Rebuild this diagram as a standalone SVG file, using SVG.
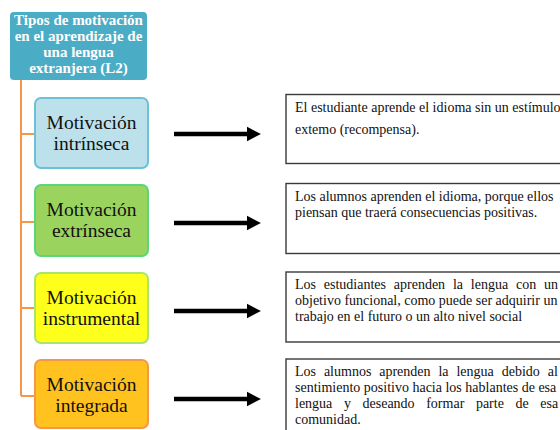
<svg xmlns="http://www.w3.org/2000/svg" width="560" height="430" viewBox="0 0 560 430">
<style>
.title{font-family:"Liberation Serif","Times New Roman",serif;font-weight:bold;font-size:15px;fill:#ffffff;text-anchor:middle}
.lbl{font-family:"Liberation Serif","Times New Roman",serif;font-size:19.5px;fill:#111111;text-anchor:middle}
.desc{font-family:"Liberation Serif","Times New Roman",serif;font-size:14px;fill:#111111}
.dbox{fill:#ffffff;stroke:#3a3a3a;stroke-width:1.4}
.branch{fill:none;stroke:#F79646;stroke-width:2}
.arrow{stroke:#000000;stroke-width:4.5;fill:none}
</style>
<defs>
<marker id="ah" markerWidth="4" markerHeight="4" refX="0" refY="2" orient="auto" markerUnits="strokeWidth" viewBox="0 0 4 4">
<path d="M0,0.4 L3.1,2 L0,3.6 Z" fill="#000000"/>
</marker>
</defs>
<rect width="560" height="430" fill="#ffffff"/>

<g id="connectors">
<path class="branch" d="M21,80 V396 M21,134 H35 M21,222 H35 M21,308 H35 M21,396 H35"/>
<line class="arrow" x1="174" y1="134" x2="247" y2="134" marker-end="url(#ah)"/>
<line class="arrow" x1="174" y1="223" x2="247" y2="223" marker-end="url(#ah)"/>
<line class="arrow" x1="174" y1="311" x2="247" y2="311" marker-end="url(#ah)"/>
<line class="arrow" x1="174" y1="399" x2="247" y2="399" marker-end="url(#ah)"/>
</g>

<g id="title">
<rect x="10" y="12" width="137" height="68" rx="4" fill="#4BACC6"/>
<text class="title" x="78.5" y="25">Tipos de motivación</text>
<text class="title" x="78.5" y="41">en el aprendizaje de</text>
<text class="title" x="78.5" y="57">una lengua</text>
<text class="title" x="78.5" y="73">extranjera (L2)</text>
</g>

<g id="intrinseca">
<rect x="35" y="98" width="113" height="70" rx="6" fill="#BCE1EA" stroke="#6CC0D8" stroke-width="2"/>
<text class="lbl" x="91.5" y="129">Motivación</text>
<text class="lbl" x="91.5" y="150">intrínseca</text>
</g>

<g id="extrinseca">
<rect x="35" y="185" width="113" height="71" rx="6" fill="#9BD35F" stroke="#5AD67A" stroke-width="2"/>
<text class="lbl" x="91.5" y="216">Motivación</text>
<text class="lbl" x="91.5" y="237">extrínseca</text>
</g>

<g id="instrumental">
<rect x="35" y="273" width="113" height="70" rx="6" fill="#FFFF1C" stroke="#A8E46E" stroke-width="2"/>
<text class="lbl" x="91.5" y="304">Motivación</text>
<text class="lbl" x="91.5" y="325">instrumental</text>
</g>

<g id="integrada">
<rect x="35" y="360" width="113" height="68" rx="6" fill="#FFC21F" stroke="#F79646" stroke-width="2"/>
<text class="lbl" x="91.5" y="391">Motivación</text>
<text class="lbl" x="91.5" y="412">integrada</text>
</g>

<g id="desc-intrinseca">
<rect class="dbox" x="286" y="94.5" width="290" height="69"/>
<text class="desc" x="295" y="112">El estudiante aprende el idioma sin un estímulo</text>
<text class="desc" x="295" y="134">extemo (recompensa).</text>
</g>

<g id="desc-extrinseca">
<rect class="dbox" x="286" y="183.5" width="290" height="70"/>
<text class="desc" x="295" y="201">Los alumnos aprenden el idioma, porque ellos</text>
<text class="desc" x="295" y="217">piensan que traerá consecuencias positivas.</text>
</g>

<g id="desc-instrumental">
<rect class="dbox" x="286" y="272" width="290" height="70"/>
<text class="desc" x="295" y="289" word-spacing="4.3">Los estudiantes aprenden la lengua con un</text>
<text class="desc" x="295" y="305">objetivo funcional, como puede ser adquirir un</text>
<text class="desc" x="295" y="321">trabajo en el futuro o un alto nivel social</text>
</g>

<g id="desc-integrada">
<rect class="dbox" x="286" y="359" width="290" height="90"/>
<text class="desc" x="295" y="376" word-spacing="4.4">Los alumnos aprenden la lengua debido al</text>
<text class="desc" x="295" y="392">sentimiento positivo hacia los hablantes de esa</text>
<text class="desc" x="295" y="408" word-spacing="8.1">lengua y deseando formar parte de esa</text>
<text class="desc" x="295" y="424">comunidad.</text>
</g>
</svg>
